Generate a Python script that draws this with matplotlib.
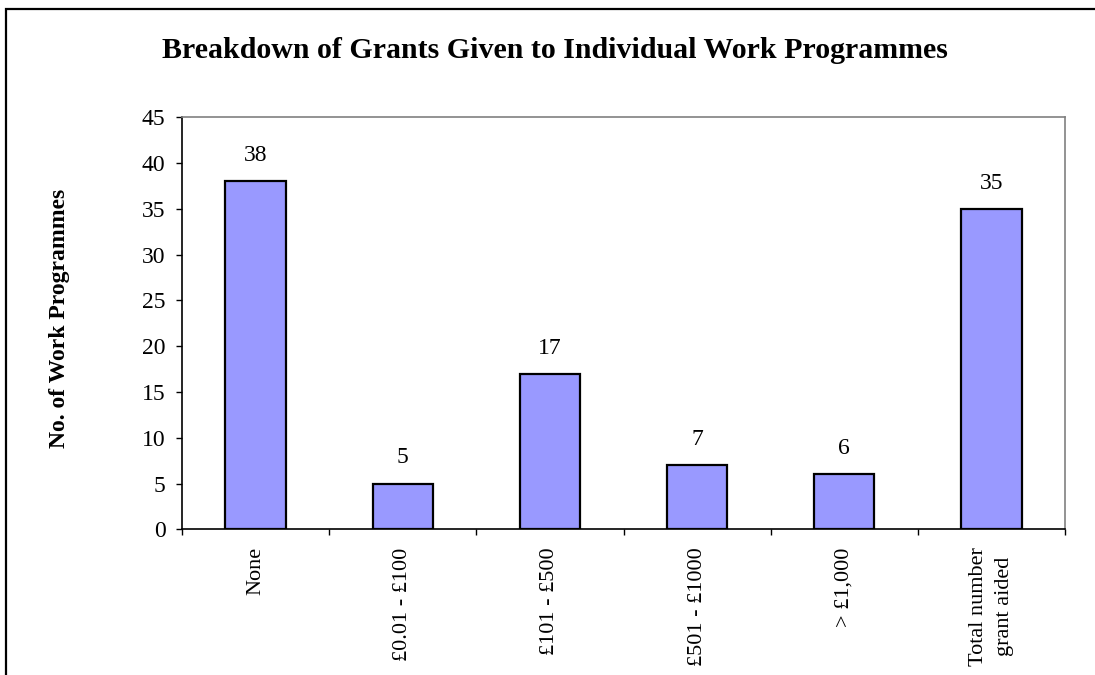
import matplotlib
matplotlib.use("Agg")
import matplotlib.pyplot as plt
from matplotlib.patches import Rectangle
import numpy as np

categories = ["None", "£0.01 - £100", "£101 - £500", "£501 - £1000", "> £1,000",
              "Total number\ngrant aided"]
counts = [38, 5, 17, 7, 6, 35]
y_ticks = [0, 5, 10, 15, 20, 25, 30, 35, 40, 45]

plt.rcParams["font.family"] = ["Liberation Serif", "DejaVu Serif"]

W, H = 1095, 675
fig = plt.figure(figsize=(W / 100, H / 100), dpi=100)
fig.patch.set_facecolor("white")

# plot area in pixel terms
left, right, top, bottom = 182, 1065, 117.3, 529.3
ax = fig.add_axes([left / W, 1 - bottom / H, (right - left) / W, (bottom - top) / H])

x = np.arange(len(categories))
ax.bar(x, counts, width=0.41, color="#9999FF", edgecolor="black", linewidth=1.6, zorder=3)

for xi, v in zip(x, counts):
    ax.annotate(str(v), (xi, v), xytext=(0, 14.5), textcoords="offset points",
                ha="center", va="baseline", fontsize=17)

ax.set_xlim(-0.5, len(categories) - 0.5)
ax.set_ylim(0, 45)
ax.set_yticks(y_ticks)
ax.set_yticklabels([str(t) for t in y_ticks], fontsize=17)

ax.set_xticks(x)
ax.set_xticklabels(categories, rotation=90, fontsize=16, va="top", ha="center",
                   multialignment="center", linespacing=1.55)
ax.tick_params(axis="x", which="major", length=0, pad=13)
ax.set_xticks(np.arange(-0.5, len(categories)), minor=True)
ax.tick_params(axis="x", which="minor", length=4.3, width=1, color="black", direction="out")
ax.tick_params(axis="y", length=4.3, width=1, direction="out", pad=7.5)

for side in ("top", "right"):
    ax.spines[side].set_color("#808080")
    ax.spines[side].set_linewidth(1.2)
for side in ("left", "bottom"):
    ax.spines[side].set_color("black")
    ax.spines[side].set_linewidth(1.2)

fig.text(59 / W, 1 - 318 / H, "No. of Work Programmes", rotation=90,
         ha="center", va="center", fontsize=17, fontweight="bold")

fig.text(555 / W, 1 - 50 / H, "Breakdown of Grants Given to Individual Work Programmes",
         ha="center", va="center", fontsize=21.5, fontweight="bold")

# outer chart frame
fig.patches.append(Rectangle((6 / W, -0.2), 1.2, 1.2 - 9 / H, transform=fig.transFigure,
                             fill=False, edgecolor="black", linewidth=1.6, clip_on=False))

fig.savefig("out.png", dpi=100)
